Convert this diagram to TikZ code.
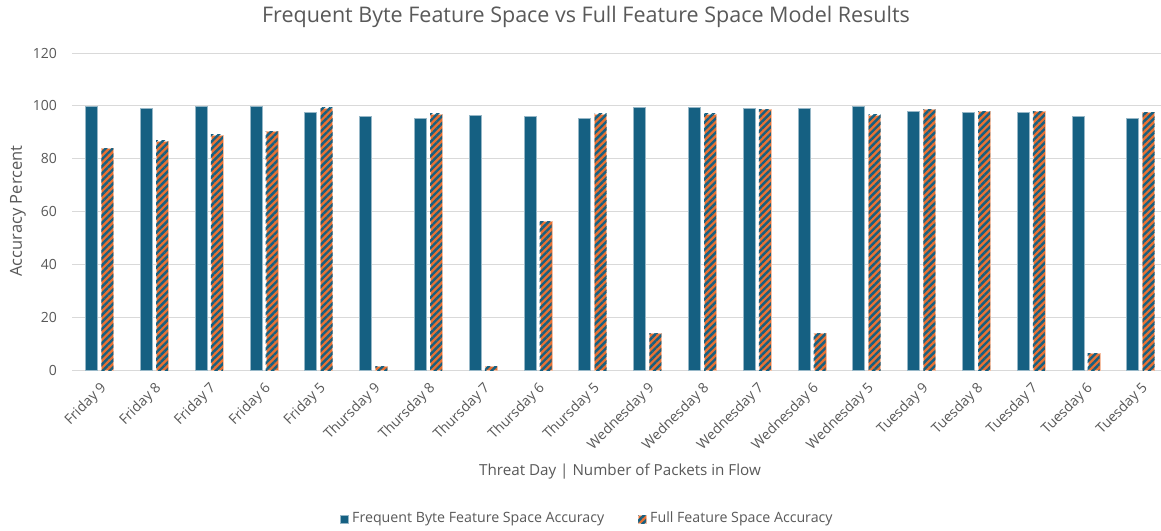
\documentclass[tikz,border=0pt]{standalone}
\usepackage{fontspec}
\setmainfont{Open Sans}
\usetikzlibrary{patterns.meta}
\definecolor{barblue}{HTML}{156082}
\definecolor{barorange}{HTML}{E97132}
\definecolor{txtgray}{HTML}{595959}
\definecolor{gridgray}{HTML}{D9D9D9}
\tikzset{
  fbbar/.style={fill=barblue, draw=white!55!barblue, line width=0.4pt},
  ffbar/.style={fill=barorange, draw=white!55!barorange, line width=0.4pt,
    postaction={pattern={Lines[angle=45,distance=5pt,line width=2.4pt]}, pattern color=barblue}},
  gridline/.style={draw=gridgray, line width=1pt},
  ticklabel/.style={text=txtgray, font=\fontsize{14}{16}\selectfont, anchor=east, inner sep=0pt},
  catlabel/.style={text=txtgray, font=\fontsize{14}{16}\selectfont, rotate=45, anchor=east, inner sep=0pt},
  charttitle/.style={text=txtgray, font=\fontsize{21.5}{25}\selectfont, inner sep=0pt},
  axistitle/.style={text=txtgray, font=\fontsize{15.2}{17}\selectfont, inner sep=0pt},
  legendtext/.style={text=txtgray, font=\fontsize{14.2}{16}\selectfont, anchor=west, inner sep=0pt},
}
\begin{document}
\begin{tikzpicture}[x=1pt, y=-1pt]
  \useasboundingbox[fill=white] (0,0) rectangle (1161,530);

  % horizontal gridlines and value axis labels
  \foreach \v [count=\k from 0] in {0,20,40,60,80,100,120} {
    \pgfmathsetmacro\gy{370-\k*52.83}
    \draw[gridline] (72,\gy) -- (1161,\gy);
    \node[ticklabel] (tick\v) at (57,\gy) {\v};
  }

  % paired bars per category
  \foreach \lab/\b/\o [count=\i from 0] in {
    Friday 9/99.8/84.0, Friday 8/99.2/86.8, Friday 7/99.8/89.0, Friday 6/99.8/90.4,
    Friday 5/97.7/99.2, Thursday 9/96.0/1.5, Thursday 8/95.5/97.0, Thursday 7/96.4/1.5,
    Thursday 6/96.0/56.2, Thursday 5/95.5/97.0, Wednesday 9/99.6/14.0, Wednesday 8/99.6/97.0,
    Wednesday 7/99.1/98.6, Wednesday 6/99.1/14.0, Wednesday 5/99.8/96.6, Tuesday 9/98.0/98.7,
    Tuesday 8/97.5/98.0, Tuesday 7/97.5/98.0, Tuesday 6/96.0/6.3, Tuesday 5/95.5/97.5} {
    \pgfmathsetmacro\c{99.3+\i*54.8}
    \pgfmathsetmacro\hb{370-\b*2.6417}
    \pgfmathsetmacro\ho{370-\o*2.6417}
    \path[fbbar] (\c-14,370) rectangle (\c-2,\hb);
    \path[ffbar] (\c+2,370) rectangle (\c+14,\ho);
    \node[catlabel] (cat\i) at (\c+5,386) {\lab};
  }

  % titles
  \node[charttitle] (title) at (586,17) {Frequent Byte Feature Space vs Full Feature Space Model Results};
  \node[axistitle] (xtitle) at (620,472) {Threat Day | Number of Packets in Flow};
  \node[axistitle, font=\fontsize{16.5}{18}\selectfont, rotate=90] (ytitle) at (18,211) {Accuracy Percent};

  % legend
  \path[fbbar] (340,515) rectangle (348,523);
  \node[legendtext] (leg1) at (352,519) {Frequent Byte Feature Space Accuracy};
  \path[ffbar] (638,515) rectangle (646,523);
  \node[legendtext] (leg2) at (650,519) {Full Feature Space Accuracy};
\end{tikzpicture}
\end{document}
